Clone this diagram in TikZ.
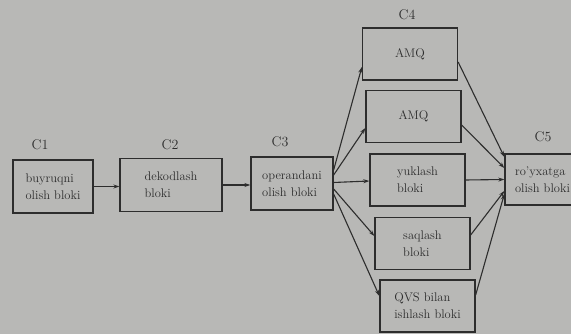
\documentclass[tikz,border=0pt]{standalone}
\usetikzlibrary{arrows.meta,calc}
\definecolor{qogoz}{RGB}{184,184,182}
\definecolor{siyoh}{RGB}{45,45,45}
\begin{document}
\begin{tikzpicture}[x=1pt,y=1pt,
  blok/.style={draw=siyoh,line width=1.3pt,fill=qogoz,text=siyoh,align=left,
    minimum height=53pt,inner sep=0pt,font=\fontsize{12.5}{17}\selectfont},
  sarlavha/.style={text=siyoh,font=\fontsize{14}{14}\selectfont},
  strelka/.style={draw=siyoh,line width=1.1pt,-{Stealth[length=6pt,width=4pt]}}]
  \fill[qogoz] (0,0) rectangle (571,334);
  \clip (0,0) rectangle (571,334);
  % asosiy bloklar
  \node[blok,minimum width=80pt] (C1) at (53,147.5) {buyruqni\\olish bloki};
  \node[blok,minimum width=102pt] (C2) at (171,149) {dekodlash\\bloki};
  \node[blok,minimum width=82pt] (C3) at (292,150.5) {operandani\\olish bloki};
  \node[blok,minimum width=75pt,minimum height=51pt] (C5) at (542.5,154.5) {ro'yxatga\\olish bloki};
  % C4 bloklari
  \foreach \nom/\px/\py/\matn in {A1/410/280/AMQ,A2/413.5/217.5/AMQ,
      Yu/417.5/154/{yuklash\\bloki},Sa/422.5/90.5/{saqlash\\bloki},
      Qv/427.5/28/{QVS bilan\\ishlash bloki}}
    \node[blok,minimum width=95pt,minimum height=52pt] (\nom) at (\px,\py) {\matn};
  \node[sarlavha] (L1) at (40,189) {C1};
  \node[sarlavha] (L2) at (170,189) {C2};
  \node[sarlavha] (L3) at (280,192) {C3};
  \node[sarlavha] (L4) at (407,319) {C4};
  \node[sarlavha] (L5) at (543,197) {C5};
  \draw[strelka] (C1.east) -- (C1.east -| C2.west);
  \draw[strelka] (C2.east) -- (C2.east -| C3.west);
  \foreach \nom/\dy/\ey in {A1/13.5/-13,A2/8.5/-11.5,Yu/1/-1,Sa/-5.5/7.5,Qv/-10.5/10}
    \draw[strelka] ($(C3.east)+(0,\dy)$) -- ($(\nom.west)+(0,\ey)$);
  \foreach \nom/\dy/\ey in {A1/-8/22.5,A2/-8.5/11.5,Yu/0/0,Sa/8.5/-11.5,Qv/11/-14.5}
    \draw[strelka] ($(\nom.east)+(0,\dy)$) -- ($(C5.west)+(0,\ey)$);
\end{tikzpicture}
\end{document}
